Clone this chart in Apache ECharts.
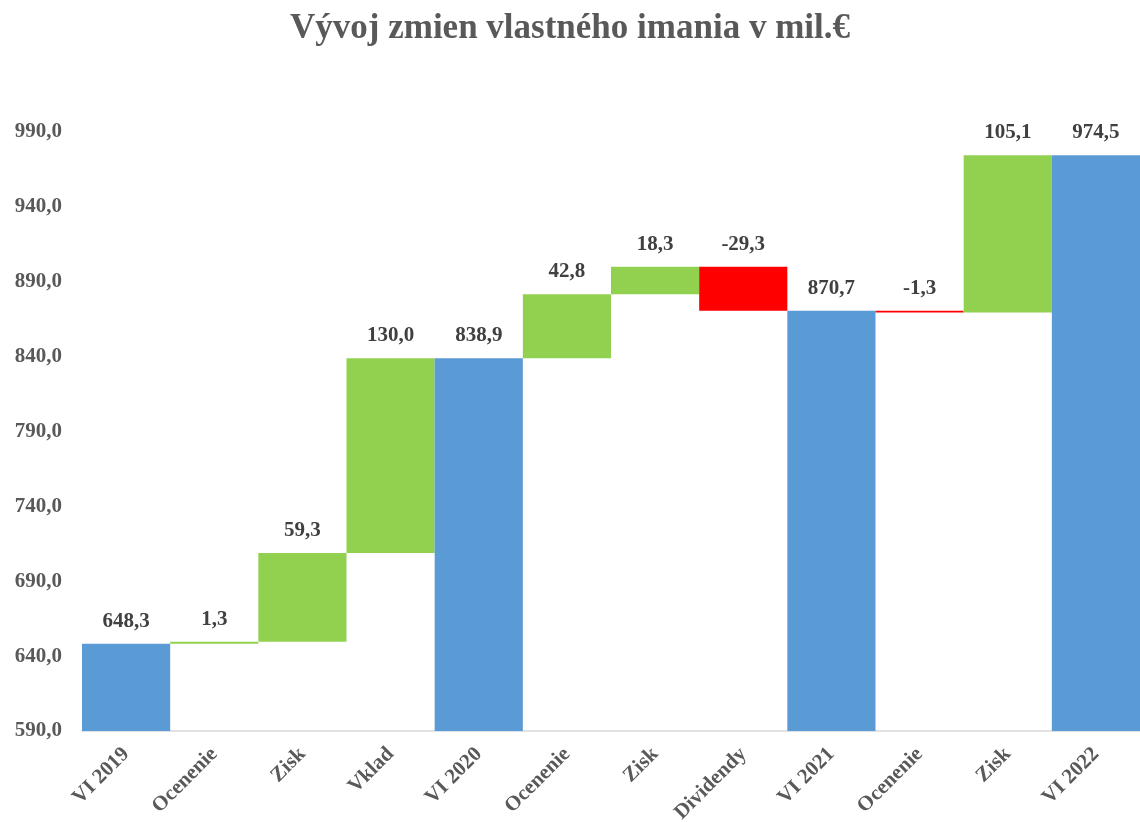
<!DOCTYPE html>
<html>
<head>
<meta charset="utf-8">
<script src="https://cdn.jsdelivr.net/npm/echarts@6/dist/echarts.min.js"></script>
<style>
  html, body { margin: 0; padding: 0; background: #fff; }
  #chart { width: 1140px; height: 822px; }
</style>
</head>
<body>
<div id="chart"></div>
<script>
// kategórie a zmeny vlastného imania (mil. €)
const categories = ['VI 2019', 'Ocenenie', 'Zisk', 'Vklad', 'VI 2020', 'Ocenenie', 'Zisk', 'Dividendy', 'VI 2021', 'Ocenenie', 'Zisk', 'VI 2022'];
const values = [648.3, 1.3, 59.3, 130.0, 838.9, 42.8, 18.3, -29.3, 870.7, -1.3, 105.1, 974.5];
// 'total' = stav VI, 'delta' = zmena
const kinds = ['total', 'delta', 'delta', 'delta', 'total', 'delta', 'delta', 'delta', 'total', 'delta', 'delta', 'total'];
const yTicks = [590, 640, 690, 740, 790, 840, 890, 940, 990];

const FONT = '"Liberation Serif", "Times New Roman", serif';
const BLUE = '#5B9BD5', GREEN = '#92D050', RED = '#FF0000';

function fmt(v) {
  return v.toFixed(1).replace('.', ',');
}

// neviditeľný podklad + viditeľná časť
let base = [];
let visible = [];
let running = 0;
values.forEach((v, i) => {
  if (kinds[i] === 'total') {
    running = v;
    base.push(0);
    visible.push({ value: v, raw: v, itemStyle: { color: BLUE } });
  } else {
    let lo = v >= 0 ? running : running + v;
    base.push(lo);
    visible.push({ value: Math.abs(v), raw: v, itemStyle: { color: v >= 0 ? GREEN : RED } });
    running += v;
  }
});

let myChart = echarts.init(document.getElementById('chart'));
let option = {
  backgroundColor: '#fff',
  animation: false,
  title: {
    text: 'Vývoj zmien vlastného imania v mil.€',
    left: 'center',
    top: 6,
    textStyle: {
      fontFamily: FONT,
      fontWeight: 'bold',
      fontSize: 35,
      color: '#595959',
    },
  },
  grid: {
    left: 82,
    right: 0,
    top: 132,
    bottom: 91,
    outerBoundsMode: 'none',
  },
  xAxis: {
    type: 'category',
    data: categories,
    axisTick: { show: false },
    axisLine: { lineStyle: { color: '#D9D9D9', width: 1.5 } },
    axisLabel: {
      rotate: 45,
      interval: 0,
      margin: 20,
      fontFamily: FONT,
      fontWeight: 'bold',
      fontSize: 21,
      color: '#595959',
    },
  },
  yAxis: {
    type: 'value',
    min: yTicks[0],
    max: yTicks[yTicks.length - 1],
    interval: 50,
    axisLine: { show: false },
    axisTick: { show: false },
    splitLine: { show: false },
    axisLabel: {
      margin: 20,
      fontFamily: FONT,
      fontWeight: 'bold',
      fontSize: 21,
      color: '#595959',
      formatter: v => fmt(v),
    },
  },
  series: [
    {
      type: 'bar',
      stack: 'w',
      silent: true,
      itemStyle: { color: 'transparent' },
      data: base,
      barCategoryGap: '0%',
    },
    {
      type: 'bar',
      stack: 'w',
      barCategoryGap: '0%',
      data: visible,
      label: {
        show: true,
        position: 'top',
        distance: 12,
        fontFamily: FONT,
        fontWeight: 'bold',
        fontSize: 21,
        color: '#404040',
        formatter: p => fmt(p.data.raw),
      },
    },
  ],
};
myChart.setOption(option);
window.onresize = function () {
  myChart.resize()
}
</script>
</body>
</html>
